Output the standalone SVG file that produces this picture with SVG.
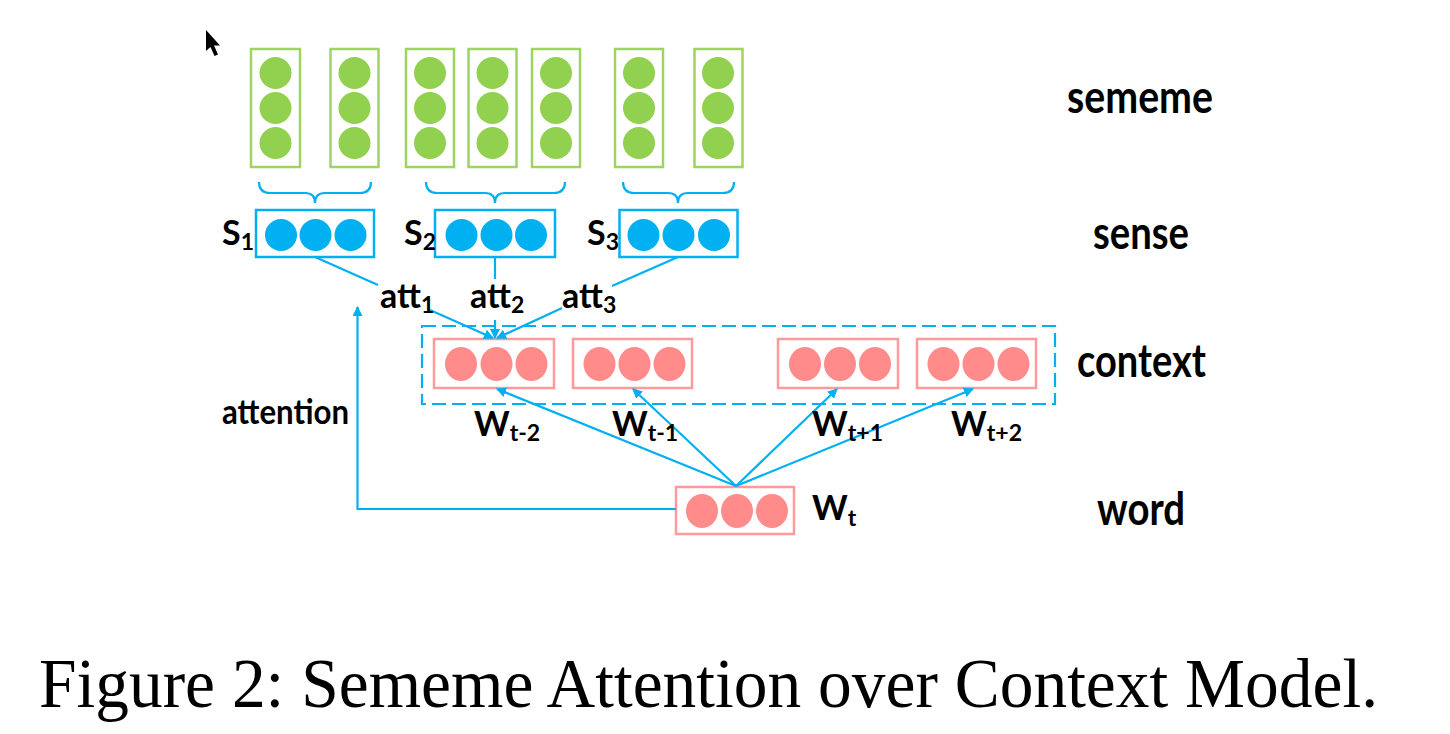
<svg xmlns="http://www.w3.org/2000/svg" width="1450" height="734" viewBox="0 0 1450 734">
<style>
.gbox{fill:#fff;stroke:#9ed45f;stroke-width:2.5}
.gc{fill:#92d050}
.bbox{fill:#fff;stroke:#00b0f0;stroke-width:2.5}
.bc{fill:#00b0f0}
.pbox{fill:#fff;stroke:#ff9a9a;stroke-width:2.5}
.pc{fill:#ff8b8b}
.ln{fill:none;stroke:#00b0f0;stroke-width:2.2}
.t{font-family:Lato,"Open Sans","Liberation Sans",sans-serif;font-weight:bold;fill:#000}
.big{font-size:45px}
.mid{font-size:34px}
.sub{font-size:23px}
</style>
<defs>
<marker id="ah2" viewBox="0 0 10 10" refX="9" refY="5" markerWidth="10" markerHeight="10" orient="auto" markerUnits="userSpaceOnUse">
<path d="M0,0 L10,5 L0,10 z" fill="#00b0f0"/>
</marker>
</defs>
<rect width="1450" height="734" fill="#fff"/>
<polygon points="206,30 206,51 210.5,47 214.5,56 218,54.5 214,45.5 220,45.5" fill="#000"/>

<g id="sememe1"><rect class="gbox" x="251" y="49" width="49" height="118"/><circle class="gc" cx="275.5" cy="73" r="16"/><circle class="gc" cx="275.5" cy="108" r="16"/><circle class="gc" cx="275.5" cy="143" r="16"/></g>
<g id="sememe2"><rect class="gbox" x="330.5" y="49" width="48" height="118"/><circle class="gc" cx="354.5" cy="73" r="16"/><circle class="gc" cx="354.5" cy="108" r="16"/><circle class="gc" cx="354.5" cy="143" r="16"/></g>
<g id="sememe3"><rect class="gbox" x="406" y="49" width="48" height="118"/><circle class="gc" cx="430" cy="73" r="16"/><circle class="gc" cx="430" cy="108" r="16"/><circle class="gc" cx="430" cy="143" r="16"/></g>
<g id="sememe4"><rect class="gbox" x="468.5" y="49" width="48" height="118"/><circle class="gc" cx="492.5" cy="73" r="16"/><circle class="gc" cx="492.5" cy="108" r="16"/><circle class="gc" cx="492.5" cy="143" r="16"/></g>
<g id="sememe5"><rect class="gbox" x="532" y="49" width="48" height="118"/><circle class="gc" cx="556" cy="73" r="16"/><circle class="gc" cx="556" cy="108" r="16"/><circle class="gc" cx="556" cy="143" r="16"/></g>
<g id="sememe6"><rect class="gbox" x="615" y="49" width="48" height="118"/><circle class="gc" cx="639" cy="73" r="16"/><circle class="gc" cx="639" cy="108" r="16"/><circle class="gc" cx="639" cy="143" r="16"/></g>
<g id="sememe7"><rect class="gbox" x="694.5" y="49" width="48" height="118"/><circle class="gc" cx="718" cy="73" r="16"/><circle class="gc" cx="718" cy="108" r="16"/><circle class="gc" cx="718" cy="143" r="16"/></g>

<g id="braces">
<path class="ln" d="M259,182 Q259,193 270,193 L305,193 Q315,193 315,203 Q315,193 325,193 L360,193 Q371,193 371,182"/>
<path class="ln" d="M426,182 Q426,193 437,193 L485,193 Q495,193 495,203 Q495,193 505,193 L554,193 Q565,193 565,182"/>
<path class="ln" d="M623,182 Q623,193 634,193 L668,193 Q678,193 678,203 Q678,193 688,193 L723,193 Q734,193 734,182"/>
</g>

<g id="sense1"><rect class="bbox" x="256" y="210" width="118" height="47"/><circle class="bc" cx="281" cy="235" r="16"/><circle class="bc" cx="315.5" cy="235" r="16"/><circle class="bc" cx="350.5" cy="235" r="16"/>
<text class="t mid" x="222" y="245">S<tspan class="sub" dy="5">1</tspan></text></g>
<g id="sense2"><rect class="bbox" x="435" y="210" width="120" height="47"/><circle class="bc" cx="461.5" cy="235" r="16"/><circle class="bc" cx="496.5" cy="235" r="16"/><circle class="bc" cx="531" cy="235" r="16"/>
<text class="t mid" x="404" y="245">S<tspan class="sub" dy="5">2</tspan></text></g>
<g id="sense3"><rect class="bbox" x="619.5" y="210" width="118" height="47"/><circle class="bc" cx="643.5" cy="235" r="16"/><circle class="bc" cx="678.5" cy="235" r="16"/><circle class="bc" cx="714" cy="235" r="16"/>
<text class="t mid" x="587" y="245">S<tspan class="sub" dy="5">3</tspan></text></g>

<g id="context">
<rect x="422" y="326" width="633" height="78" fill="none" stroke="#00b0f0" stroke-width="2.2" stroke-dasharray="14,6"/>
<g id="ctx1"><rect class="pbox" x="434" y="339" width="120" height="49"/><ellipse class="pc" cx="461" cy="364" rx="16" ry="17"/><ellipse class="pc" cx="496.5" cy="364" rx="16" ry="17"/><ellipse class="pc" cx="531.5" cy="364" rx="16" ry="17"/></g>
<g id="ctx2"><rect class="pbox" x="573" y="339" width="119" height="49"/><ellipse class="pc" cx="599.5" cy="364" rx="16" ry="17"/><ellipse class="pc" cx="634.5" cy="364" rx="16" ry="17"/><ellipse class="pc" cx="669.5" cy="364" rx="16" ry="17"/></g>
<g id="ctx3"><rect class="pbox" x="778" y="339" width="120" height="49"/><ellipse class="pc" cx="805" cy="364" rx="16" ry="17"/><ellipse class="pc" cx="840" cy="364" rx="16" ry="17"/><ellipse class="pc" cx="875" cy="364" rx="16" ry="17"/></g>
<g id="ctx4"><rect class="pbox" x="917" y="339" width="119" height="49"/><ellipse class="pc" cx="943.5" cy="364" rx="16" ry="17"/><ellipse class="pc" cx="978.5" cy="364" rx="16" ry="17"/><ellipse class="pc" cx="1013.5" cy="364" rx="16" ry="17"/></g>
</g>

<g id="word"><rect class="pbox" x="676" y="487" width="118" height="47"/><ellipse class="pc" cx="702" cy="511" rx="16" ry="17"/><ellipse class="pc" cx="737" cy="511" rx="16" ry="17"/><ellipse class="pc" cx="772" cy="511" rx="16" ry="17"/>
<text class="t mid" x="812" y="520">W<tspan class="sub" dy="6">t</tspan></text></g>

<g id="connectors">
<line class="ln" x1="315" y1="257" x2="378" y2="285"/>
<line class="ln" x1="430" y1="310" x2="493" y2="338" marker-end="url(#ah2)"/>
<line class="ln" x1="495" y1="257" x2="495" y2="279"/>
<line class="ln" x1="495" y1="320" x2="495" y2="338" marker-end="url(#ah2)"/>
<line class="ln" x1="678" y1="257" x2="612" y2="286"/>
<line class="ln" x1="562" y1="308" x2="497" y2="338" marker-end="url(#ah2)"/>
<line class="ln" x1="736" y1="486" x2="497" y2="389" marker-end="url(#ah2)"/>
<line class="ln" x1="736" y1="486" x2="633" y2="389" marker-end="url(#ah2)"/>
<line class="ln" x1="736" y1="486" x2="837" y2="389" marker-end="url(#ah2)"/>
<line class="ln" x1="736" y1="486" x2="973" y2="389" marker-end="url(#ah2)"/>
<polyline class="ln" points="676,509 357.5,509 357.5,307" marker-end="url(#ah2)"/>
</g>

<g id="labels">
<text class="t mid" x="380" y="308">att<tspan class="sub" dy="5">1</tspan></text>
<text class="t mid" x="470" y="308">att<tspan class="sub" dy="5">2</tspan></text>
<text class="t mid" x="562" y="308">att<tspan class="sub" dy="5">3</tspan></text>
<text class="t mid" x="474" y="436">W<tspan class="sub" dy="5">t-2</tspan></text>
<text class="t mid" x="612" y="436">W<tspan class="sub" dy="5">t-1</tspan></text>
<text class="t mid" x="812" y="436">W<tspan class="sub" dy="5">t+1</tspan></text>
<text class="t mid" x="951" y="436">W<tspan class="sub" dy="5">t+2</tspan></text>
<text class="t mid" x="222" y="424" textLength="127" lengthAdjust="spacingAndGlyphs">attention</text>
<text class="t big" x="1067" y="113" textLength="146" lengthAdjust="spacingAndGlyphs">sememe</text>
<text class="t big" x="1093" y="249" textLength="96" lengthAdjust="spacingAndGlyphs">sense</text>
<text class="t big" x="1077" y="377" textLength="129" lengthAdjust="spacingAndGlyphs">context</text>
<text class="t big" x="1097" y="525" textLength="88" lengthAdjust="spacingAndGlyphs">word</text>
</g>

<text x="39" y="707" font-family="'Liberation Serif','Times New Roman',serif" font-size="70" fill="#000" textLength="1339" lengthAdjust="spacingAndGlyphs">Figure 2: Sememe Attention over Context Model.</text>
</svg>
